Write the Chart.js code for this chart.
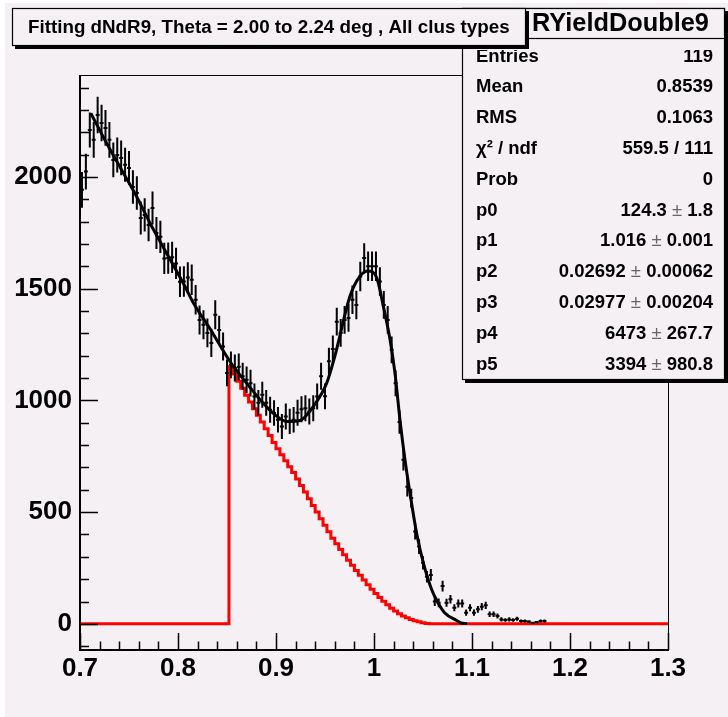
<!DOCTYPE html>
<html><head><meta charset="utf-8">
<script src="https://cdn.jsdelivr.net/npm/chart.js@4.4.0/dist/chart.umd.min.js"></script>
<style>html,body{margin:0;padding:0;background:#fff;overflow:hidden}canvas{display:block}</style>
</head><body><canvas id="c" width="728" height="717"></canvas>
<script>
// ---------------- data ----------------
const histMin = 0.7;
const histMax = 1.3;
const binWidth = 0.004;
const nBins = 150;

// measured histogram (black points with error bars), one value per bin starting at 0.700
const counts = [
 1942,2024,2210,2166,2277,2241,2219,2166,2076,2098,
 2085,2054,2040,1955,1928,1816,1830,1785,1861,1749,
 1732,1635,1637,1640,1613,1531,1532,1550,1540,1450,
 1360,1338,1302,1257,1383,1315,1241,1123,1159,1145,
 1150,1108,1092,1077,1017,989,1025,989,958,944,
 913,883,928,906,913,945,960,965,950,965,
 1017,1108,1018,1175,1230,1352,1302,1360,1369,1450,
 1427,1554,1637,1600,1600,1600,1532,1427,1360,1226,
 1077,903,734,614,563,413,346,273,211,219,
 100,94,169,94,110,72,91,91,50,72,
 50,65,77,83,43,43,35,20,17,20,
 17,23,13,13,10,5,8,13,13
];
const errors = [
 80,80,78,80,82,82,80,80,78,78,
 78,76,76,75,75,74,74,73,74,72,
 72,70,70,70,70,68,68,68,68,66,
 65,65,64,63,65,64,63,60,60,60,
 60,60,60,60,58,58,58,58,58,57,
 57,56,58,57,57,58,58,58,58,58,
 58,60,58,60,60,62,62,62,62,64,
 64,66,66,66,66,66,64,62,62,60,
 58,52,48,44,42,36,33,30,26,26,
 20,20,24,18,19,16,18,18,14,16,
 14,15,16,16,12,12,11,9,8,9,
 8,9,7,7,6,4,5,7,7
];

// red component histogram, bins starting at 0.852 (bin 38)
const redFirstBin = 38;
const redCounts = [
 1150,1118,1086,1054,1023,993,963,933,903,873,
 843,812,784,757,730,703,677,648,619,590,
 560,530,500,470,441,412,383,358,333,309,
 285,262,239,217,196,175,155,136,118,101,
 85,70,57,45,35,27,20,14,9,5,2,0
];

// fitted curve: [x, y]
const fitCurve = [
 [0.711,2285],[0.729,2136],[0.7425,2031],[0.756,1927],[0.773,1780],[0.790,1646],
 [0.807,1511],[0.8156,1437],[0.833,1318],[0.853,1174],[0.870,1077],[0.884,1002],
 [0.897,943],[0.911,906],[0.9245,910],[0.938,972],[0.9517,1077],[0.960,1197],
 [0.9755,1466],[0.9857,1556],[0.994,1579],[1.0027,1549],[1.0095,1422],[1.0163,1273],
 [1.0214,1122],[1.0265,913],[1.0316,734],[1.0367,585],[1.0435,405],[1.0503,274],
 [1.0588,154],[1.0656,92],[1.072,50],[1.0844,15],[1.089,4],[1.095,1]
];

const xTickLabels = [0.7,0.8,0.9,1,1.1,1.2,1.3];
const yTickLabels = [0,500,1000,1500,2000];
const yRange = [-117, 2456];

const titleText = "Fitting dNdR9, Theta = 2.00 to 2.24 deg , All clus types";
const statsName = "RYieldDouble9";
const statsLabels = ["Entries","Mean","RMS","χ² / ndf","Prob","p0","p1","p2","p3","p4","p5"];
const statsValues = ["119","0.8539","0.1063","559.5 / 111","0","124.3 ± 1.8","1.016 ± 0.001",
  "0.02692 ± 0.00062","0.02977 ± 0.00204","6473 ± 267.7","3394 ± 980.8"];

// ---------------- build datasets ----------------
const dataPts = counts.map((v,i)=>({x: histMin + binWidth*(i+0.5), y: v}));
const redPts = [];
for (let i=0;i<nBins;i++){
  const k = i - redFirstBin;
  const v = (k>=0 && k<redCounts.length) ? redCounts[k] : 0;
  redPts.push({x: histMin + binWidth*i, y: v});
}
redPts.push({x: histMax, y: 0});
const fitPts = fitCurve.map(p=>({x:p[0], y:p[1]}));

const BG = '#f4f0f4';
const FONT = '"Liberation Sans", Arial, Helvetica, sans-serif';

const bgPlugin = {
  id:'bg',
  beforeDraw(chart){
    const c = chart.ctx;
    c.save();
    c.fillStyle='#ffffff'; c.fillRect(0,0,chart.width,chart.height);
    c.fillStyle=BG; c.fillRect(5,3,chart.width-5,chart.height-3);
    c.restore();
  }
};

const errPlugin = {
  id:'errbars',
  afterDatasetDraw(chart, args){
    if (args.meta.label !== 'data') return;
    const c = chart.ctx, xs = chart.scales.x, ys = chart.scales.y, a = chart.chartArea;
    c.save();
    c.beginPath(); c.rect(a.left,a.top,a.right-a.left,a.bottom-a.top); c.clip();
    c.strokeStyle='#000'; c.lineWidth=2;
    counts.forEach((v,i)=>{
      const xc = histMin + binWidth*(i+0.5);
      const px = xs.getPixelForValue(xc);
      const py = ys.getPixelForValue(v);
      const e = errors[i] || 0;
      c.beginPath();
      c.moveTo(px, ys.getPixelForValue(v-e)); c.lineTo(px, ys.getPixelForValue(v+e));
      c.moveTo(xs.getPixelForValue(xc-binWidth/2), py); c.lineTo(xs.getPixelForValue(xc+binWidth/2), py);
      c.stroke();
    });
    c.restore();
  }
};

function fitFont(c, text, weight, targetW, base){
  c.font = weight+' '+base+'px '+FONT;
  const w = c.measureText(text).width;
  return base*targetW/w;
}

function drawTitleBox(c){
  c.fillStyle='#000';
  c.fillRect(15,11,514,38);
  c.fillStyle=BG;
  c.fillRect(12,8,514,38);
  c.strokeStyle='#000'; c.lineWidth=1.2;
  c.strokeRect(12.5,8.5,513,37);
  const fs = fitFont(c, titleText, 'bold', 482, 16);
  c.font = 'bold '+fs.toFixed(2)+'px '+FONT;
  c.fillStyle='#000'; c.textBaseline='middle'; c.textAlign='left';
  c.fillText(titleText, 28, 28);
}

const decoPlugin = {
  id:'deco',
  afterDraw(chart){
    const c = chart.ctx, xs = chart.scales.x, ys = chart.scales.y, a = chart.chartArea;
    c.save();
    // frame
    c.strokeStyle='#000';
    c.lineWidth=1;
    c.strokeRect(a.left+0.5, a.top+0.5, a.right-a.left, a.bottom-a.top);
    c.lineWidth=2;
    c.beginPath();
    c.moveTo(a.left, a.top); c.lineTo(a.left, a.bottom); c.lineTo(a.right, a.bottom);
    c.stroke();
    // x ticks (inward)
    c.lineWidth=1.5;
    c.beginPath();
    for (let k=0;k<=30;k++){
      const v = histMin + 0.02*k;
      const px = Math.round(xs.getPixelForValue(v))+0.5;
      const len = (k%5===0) ? 17 : 8.5;
      c.moveTo(px, a.bottom); c.lineTo(px, a.bottom-len);
    }
    // y ticks (inward)
    for (let k=-1;k<=24;k++){
      const v = 100*k;
      const py = Math.round(ys.getPixelForValue(v))+0.5;
      const len = (k%5===0) ? 18 : 9;
      c.moveTo(a.left, py); c.lineTo(a.left+len, py);
    }
    c.stroke();

    // ---- stats box ----
    const sx=462, sy=8, sw=263, sh=372, hh=30;
    c.fillStyle='#000';
    c.fillRect(sx+3, sy+3, sw, sh);
    c.fillStyle=BG;
    c.fillRect(sx, sy, sw, sh);
    c.strokeStyle='#000'; c.lineWidth=1.2;
    c.strokeRect(sx+0.5, sy+0.5, sw-1, sh-1);
    const rowFont = 18.5;
    const labelX = 476, valR = 713;
    statsLabels.forEach((lab,k)=>{
      const y = 56.5 + 30.8*k;
      c.save();
      if (k===0){ c.beginPath(); c.rect(sx, 50, sw, 30); c.clip(); }
      c.textBaseline='middle';
      c.fillStyle='#000';
      c.textAlign='left';
      c.font='bold '+rowFont+'px '+FONT;
      c.fillText(lab, labelX, y);
      const val = statsValues[k];
      const parts = val.split('±');
      if (parts.length===2){
        c.font='bold '+rowFont+'px '+FONT;
        const wB = c.measureText(parts[1]).width;
        const wA = c.measureText(parts[0]).width;
        c.font=rowFont+'px '+FONT;
        const wP = c.measureText('±').width;
        let x0 = valR - wB - wP - wA;
        c.font='bold '+rowFont+'px '+FONT; c.fillStyle='#000';
        c.fillText(parts[0], x0, y);
        c.font=rowFont+'px '+FONT; c.fillStyle='#666';
        c.fillText('±', x0+wA, y);
        c.font='bold '+rowFont+'px '+FONT; c.fillStyle='#000';
        c.fillText(parts[1], x0+wA+wP, y);
      } else {
        c.textAlign='right';
        c.font='bold '+rowFont+'px '+FONT;
        c.fillText(val, valR, y);
      }
      c.restore();
    });
    // header
    c.fillStyle=BG;
    c.fillRect(sx, sy, sw, hh);
    c.strokeStyle='#000'; c.lineWidth=1.2;
    c.strokeRect(sx+0.5, sy+0.5, sw-1, hh);
    const fs = fitFont(c, statsName, 'bold', 177, 24);
    c.font='bold '+fs.toFixed(2)+'px '+FONT;
    c.fillStyle='#000'; c.textAlign='left'; c.textBaseline='middle';
    c.fillText(statsName, 532, sy+hh/2+1);
    // title box drawn over stats header (as in reference)
    drawTitleBox(c);
    c.restore();
  }
};

const tickFont = {family: FONT, size: 26, weight: 'bold'};

new Chart(document.getElementById('c'), {
  type:'scatter',
  data:{ datasets:[
    { label:'fit', type:'line', data: fitPts, borderColor:'#000', borderWidth:3,
      cubicInterpolationMode:'monotone', pointRadius:0, fill:false, order:0 },
    { label:'data', type:'scatter', data: dataPts, pointRadius:0, order:1 },
    { label:'red', type:'line', data: redPts, borderColor:'#ff0000', borderWidth:3,
      stepped:true, pointRadius:0, fill:false, order:2 }
  ]},
  options:{
    responsive:false, animation:false, devicePixelRatio:1,
    layout:{padding:{left:0, right:60, top:75, bottom:0}},
    plugins:{ legend:{display:false}, tooltip:{enabled:false}, title:{display:false} },
    scales:{
      x:{ type:'linear', min:histMin, max:histMax,
        afterBuildTicks: s => { s.ticks = xTickLabels.map(v=>({value:v})); },
        afterFit: s => { s.height = 67; },
        ticks:{ autoSkip:false, maxRotation:0, color:'#000', font:tickFont, padding:3,
          callback: v => String(Math.round(v*10)/10) },
        grid:{display:false, drawTicks:false}, border:{display:false} },
      y:{ type:'linear', min:yRange[0], max:yRange[1],
        afterBuildTicks: s => { s.ticks = yTickLabels.map(v=>({value:v})); },
        afterFit: s => { s.width = 80; },
        ticks:{ autoSkip:false, color:'#000', font:tickFont, padding:8,
          callback: v => String(v) },
        grid:{display:false, drawTicks:false}, border:{display:false} }
    }
  },
  plugins:[bgPlugin, errPlugin, decoPlugin]
});
</script>
</body></html>
